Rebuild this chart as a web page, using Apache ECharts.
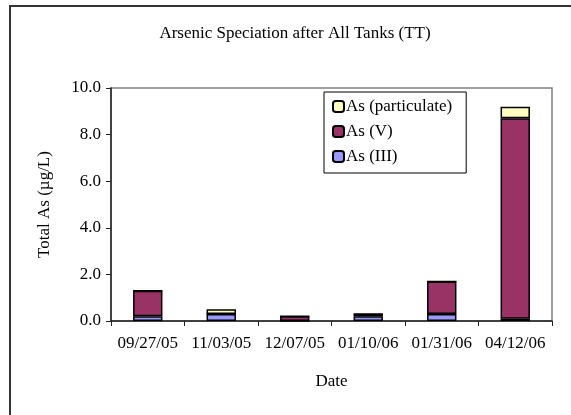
<!DOCTYPE html>
<html>
<head>
<meta charset="utf-8">
<script src="https://cdn.jsdelivr.net/npm/echarts@6/dist/echarts.min.js"></script>
<style>
  html, body { margin: 0; padding: 0; background: #fff; }
  #chart { width: 571px; height: 415px; }
</style>
</head>
<body>
<div id="chart"></div>
<script>
// Sampling dates
const dates = ['09/27/05', '11/03/05', '12/07/05', '01/10/06', '01/31/06', '04/12/06'];
// Arsenic fractions, µg/L
const asIII = [0.2, 0.3, 0.0, 0.2, 0.3, 0.1];
const asV = [1.1, 0.0, 0.2, 0.1, 1.4, 8.6];
const asPart = [0.0, 0.2, 0.0, 0.0, 0.0, 0.5];
// Y axis range
const yTicks = [0, 2, 4, 6, 8, 10];

const font = 'Liberation Serif, Times New Roman, serif';
const fs = 17;
const chart = echarts.init(document.getElementById('chart'), null, { renderer: 'canvas' });

function barSeries(name, data, color) {
  return {
    name: name,
    type: 'bar',
    stack: 'total',
    data: data,
    barWidth: '40%',
    itemStyle: { color: color, borderColor: '#000', borderWidth: 1.5 },
    emphasis: { disabled: true }
  };
}

chart.setOption({
  animation: false,
  backgroundColor: '#fff',
  title: {
    text: 'Arsenic Speciation after All Tanks (TT)',
    left: 290, top: 20, textAlign: 'center',
    textStyle: { fontFamily: font, fontSize: fs, fontWeight: 'normal', color: '#000' }
  },
  graphic: [{
    type: 'rect', silent: true,
    shape: { x: 10, y: 6, width: 800, height: 600 },
    style: { fill: 'none', stroke: '#333', lineWidth: 2 }
  }],
  legend: {
    orient: 'vertical',
    left: 324, top: 92,
    data: ['As (particulate)', 'As (V)', 'As (III)'],
    backgroundColor: '#fff', borderColor: '#000', borderWidth: 1,
    padding: [6, 14, 8, 8],
    itemWidth: 11, itemHeight: 11, itemGap: 8,
    selectedMode: false,
    textStyle: { fontFamily: font, fontSize: fs, color: '#000', padding: [0, 0, 0, -3] }
  },
  grid: {
    left: 111, right: 19, top: 88, bottom: 94,
    show: true, borderColor: '#808080', borderWidth: 1.5, backgroundColor: '#fff'
  },
  xAxis: {
    type: 'category',
    data: dates,
    name: 'Date', nameLocation: 'middle', nameGap: 52,
    nameTextStyle: { fontFamily: font, fontSize: fs, color: '#000' },
    axisLine: { lineStyle: { color: '#222', width: 1.5 } },
    axisTick: { show: true, alignWithLabel: false, length: 5, lineStyle: { color: '#222' } },
    axisLabel: { fontFamily: font, fontSize: fs, color: '#000', margin: 14, interval: 0 }
  },
  yAxis: {
    type: 'value',
    min: yTicks[0], max: yTicks[yTicks.length - 1], interval: 2,
    name: 'Total As (µg/L)', nameLocation: 'middle', nameGap: 58,
    nameTextStyle: { fontFamily: font, fontSize: fs, color: '#000' },
    axisLine: { show: true, lineStyle: { color: '#222', width: 1.5 } },
    axisTick: { show: true, length: 5, lineStyle: { color: '#222' } },
    splitLine: { show: false },
    axisLabel: {
      fontFamily: font, fontSize: fs, color: '#000', margin: 10,
      formatter: v => v.toFixed(1)
    }
  },
  series: [
    barSeries('As (III)', asIII, '#9999FF'),
    barSeries('As (V)', asV, '#993366'),
    barSeries('As (particulate)', asPart, '#FFFFC0')
  ]
});
</script>
</body>
</html>
